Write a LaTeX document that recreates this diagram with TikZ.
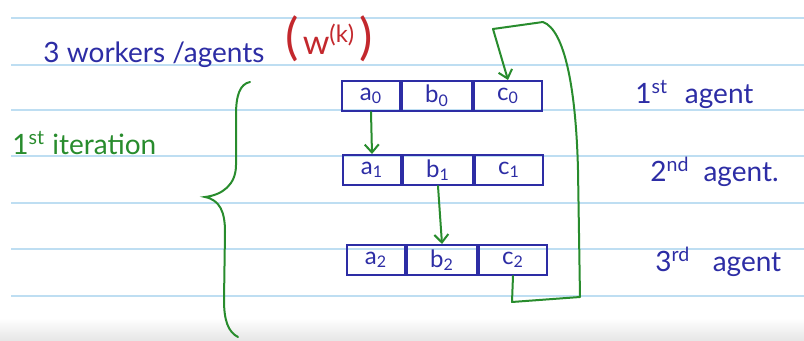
\documentclass[tikz,border=0pt]{standalone}
\usepackage{fontspec}
\setmainfont{Lato}
\usetikzlibrary{arrows.meta}
\definecolor{ink}{RGB}{45,45,165}
\definecolor{pen}{RGB}{40,140,45}
\definecolor{redpen}{RGB}{195,40,45}
\definecolor{ruleblue}{RGB}{190,222,242}
\begin{document}
\begin{tikzpicture}[x=0.5pt,y=-0.5pt,
  cell/.style={draw=ink, line width=1pt, minimum height=15pt, inner sep=0pt,
    text=ink, font=\fontsize{12}{14}\selectfont},
  acell/.style={cell, minimum width=29pt},
  bcell/.style={cell, minimum width=35pt, anchor=west},
  ccell/.style={cell, minimum width=34pt, anchor=west},
  flow/.style={draw=pen, line width=1pt, line cap=round, line join=round,
    -{Straight Barb[length=4pt,width=7pt]}},
  bracepen/.style={draw=pen, line width=1pt, line cap=round},
  label/.style={anchor=base west, inner sep=0pt, font=\fontsize{14}{16}\selectfont},
  bluelabel/.style={label, text=ink},
  greenlabel/.style={label, text=pen},
  redlabel/.style={label, text=redpen, font=\fontsize{17}{19}\selectfont},
  ruled/.style={draw=ruleblue, line width=1pt}
]
\useasboundingbox (0,0) rectangle (804,341);
\fill[white] (0,0) rectangle (804,341);
\shade[top color=white, bottom color=black!10] (0,318) rectangle (804,341);

% ruled paper lines
\foreach \yy in {18,65,110,156,203,249,296}
  \draw[ruled] (11,\yy) -- (804,\yy);

% headings
\node[bluelabel] (workers) at (43,63) {3 workers /agents};
\node[redlabel] (wk) at (285,55) {{\fontsize{25}{27}\selectfont(}\hspace{2pt}w\textsuperscript{(k)}\hspace{2pt}{\fontsize{25}{27}\selectfont)}};
\node[greenlabel] (iter) at (12,155) {1\textsuperscript{st} iteration};

% the three agents' parameter blocks
\node[acell] (a0) at (371,96) {a\textsubscript{0}};
\node[bcell] (b0) at (a0.east) {b\textsubscript{0}};
\node[ccell] (c0) at (b0.east) {c\textsubscript{0}};

\node[acell] (a1) at (372,170) {a\textsubscript{1}};
\node[bcell] (b1) at (a1.east) {b\textsubscript{1}};
\node[ccell] (c1) at (b1.east) {c\textsubscript{1}};

\node[acell] (a2) at (376,260) {a\textsubscript{2}};
\node[bcell] (b2) at (a2.east) {b\textsubscript{2}};
\node[ccell] (c2) at (b2.east) {c\textsubscript{2}};

% agent labels
\node[bluelabel] (ag1) at (635,104) {1\textsuperscript{st}\hspace{0.6em}agent};
\node[bluelabel] (ag2) at (650,182) {2\textsuperscript{nd}\hspace{0.5em}agent.};
\node[bluelabel] (ag3) at (655,272) {3\textsuperscript{rd}\hspace{0.8em}agent};

% passing blocks from one agent to the next
\draw[flow] (a0.south) -- (a1.north);
\draw[flow] (b1.south) -- (b2.north);

% wrap-around from the last agent back to the first
\coordinate (loopA) at (512,302);
\coordinate (loopB) at (580,297);
\coordinate (loopC) at (578,170);
\coordinate (loopD) at (543,22);
\coordinate (loopE) at (493,29);
\draw[flow] (c2.south) -- (loopA) -- (loopB) -- (loopC)
  .. controls (576,90) and (565,30) .. (loopD) -- (loopE) -- (c0.north);

% curly brace grouping one iteration
\draw[bracepen] (250,82) .. controls (240,84) and (236,95) .. (236,115)
  -- (236,165) .. controls (236,185) and (222,195) .. (205,197)
  .. controls (220,200) and (225,212) .. (225,232)
  -- (224,300) .. controls (224,320) and (228,332) .. (238,337);
\end{tikzpicture}
\end{document}
